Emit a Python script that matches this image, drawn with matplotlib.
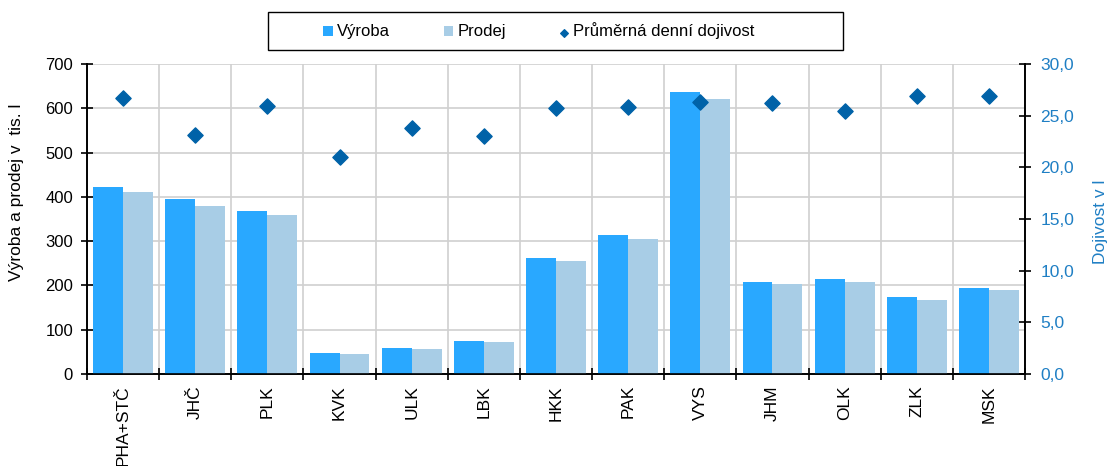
import matplotlib
matplotlib.use("Agg")
import matplotlib.pyplot as plt
import numpy as np
from matplotlib.ticker import FixedLocator, FuncFormatter
from matplotlib.patches import Rectangle

plt.rcParams['font.family'] = ['Liberation Sans', 'DejaVu Sans']

categories = ["PHA+STČ", "JHČ", "PLK", "KVK", "ULK", "LBK", "HKK", "PAK", "VYS", "JHM", "OLK", "ZLK", "MSK"]
vyroba = [422, 395, 368, 47, 58, 75, 262, 314, 637, 208, 215, 173, 195]
prodej = [412, 379, 358, 45, 56, 72, 255, 305, 621, 203, 208, 167, 189]
dojivost = [26.7, 23.1, 25.9, 21.0, 23.8, 23.0, 25.7, 25.8, 26.3, 26.2, 25.5, 26.9, 26.9]

c_vyr = "#29A8FF"
c_pro = "#A8CDE6"
c_doj = "#0062A8"
c_right = "#1F7FC4"

W, H = 1107, 466
fig = plt.figure(figsize=(W/100, H/100), dpi=100)
ax = fig.add_axes([87/W, 1-374/H, (1025-87)/W, (374-64)/H])
ax2 = ax.twinx()

x = np.arange(len(categories))
w = 0.415
b1 = ax.bar(x - w/2, vyroba, w, color=c_vyr, label="Výroba", zorder=3)
b2 = ax.bar(x + w/2, prodej, w, color=c_pro, label="Prodej", zorder=3)
sc = ax2.scatter(x, dojivost, marker="D", s=60, color=c_doj, label="Průměrná denní dojivost", zorder=4)

ax.set_xlim(-0.5, len(categories) - 0.5)
ax.set_ylim(0, 700)
ax2.set_ylim(0, 30)
ax.set_yticks(np.arange(0, 701, 100))
ax2.set_yticks(np.arange(0, 30.1, 5))
ax2.yaxis.set_major_formatter(FuncFormatter(lambda v, p: f"{v:.1f}".replace(".", ",")))

ax.set_xticks(x)
ax.set_xticklabels(categories, rotation=90, fontsize=12.5)
ax.xaxis.set_minor_locator(FixedLocator(np.arange(-0.5, len(categories), 1.0)))
ax.tick_params(axis='x', which='major', length=0, pad=8)
ax.tick_params(axis='x', which='minor', length=8, direction='inout', width=1.2)
ax.tick_params(axis='y', length=8, direction='inout', width=1.2, labelsize=12, pad=6)
ax2.tick_params(axis='y', length=8, direction='inout', width=1.2, labelsize=12.5, labelcolor=c_right, pad=7)

ax.grid(True, axis='y', color='#D0D0D0', linewidth=1.2, zorder=0)
ax.grid(True, axis='x', which='minor', color='#D0D0D0', linewidth=1.2, zorder=0)
ax.set_axisbelow(True)

for a in (ax, ax2):
    a.spines['top'].set_visible(False)
    for s in ('left', 'right', 'bottom'):
        a.spines[s].set_linewidth(1.2)
        a.spines[s].set_color('black')

fig.text(17/W, 1-192/H, "Výroba a prodej v  tis. l", fontsize=12.5, rotation=90,
         ha='center', va='center')
fig.text(1100/W, 1-222/H, "Dojivost v l", fontsize=12.5, rotation=90,
         ha='center', va='center', color=c_right)

# legend frame (Excel style)
fig.patches.append(Rectangle((268/W, 1-50/H), (843-268)/W, 38/H, transform=fig.transFigure,
                             fill=False, edgecolor='black', linewidth=1.0, figure=fig))
handles = [b1, b2, sc]
leg = fig.legend(handles, [h.get_label() for h in handles], loc='center left',
                 bbox_to_anchor=(315/W, 1-31/H), ncol=3, frameon=False,
                 fontsize=12, handlelength=0.55, handleheight=0.55,
                 handletextpad=0.25, columnspacing=3.25, borderpad=0.0, markerscale=0.5)

fig.savefig("out.png", dpi=100)
